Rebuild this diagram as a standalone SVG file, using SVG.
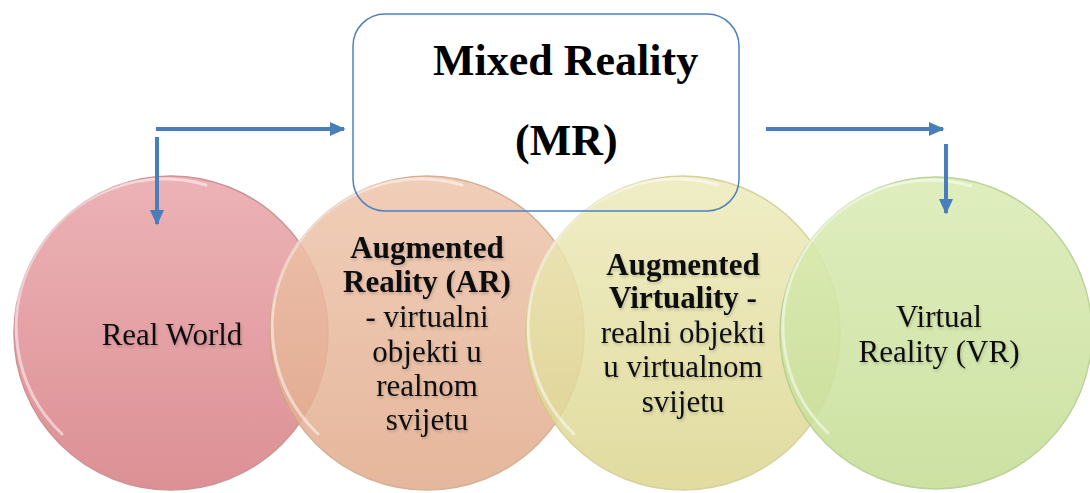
<svg xmlns="http://www.w3.org/2000/svg" width="1090" height="493" viewBox="0 0 1090 493">
<style>
.t{font-family:"Liberation Serif","Times New Roman",serif;font-size:31px;fill:#111;text-anchor:middle}
.b{font-weight:bold}
.ttl{font-family:"Liberation Serif","Times New Roman",serif;font-size:44px;font-weight:bold;fill:#000}
.hl{fill:none;stroke:#fff;stroke-width:3;stroke-opacity:0.5;stroke-linecap:round}
.conn{stroke:#4a7ebb;stroke-width:4;fill:none}
</style>
<defs>
<linearGradient id="gRW" x1="0" y1="0" x2="0" y2="1"><stop offset="0" stop-color="#ebadb1"/><stop offset="1" stop-color="#da878c"/></linearGradient>
<linearGradient id="gAR" x1="0" y1="0" x2="0" y2="1"><stop offset="0" stop-color="#efc6ad"/><stop offset="1" stop-color="#e1ab8b"/></linearGradient>
<linearGradient id="gAV" x1="0" y1="0" x2="0" y2="1"><stop offset="0" stop-color="#eeebbc"/><stop offset="1" stop-color="#dcd68f"/></linearGradient>
<linearGradient id="gVR" x1="0" y1="0" x2="0" y2="1"><stop offset="0" stop-color="#dcecb6"/><stop offset="1" stop-color="#c6de96"/></linearGradient>
<marker id="ah" viewBox="0 0 10 10" refX="9" refY="5" markerWidth="4" markerHeight="4" orient="auto" markerUnits="strokeWidth">
<path d="M0,0.5 L10,5 L0,9.5 z" fill="#4a7ebb"/>
</marker>
<filter id="sh" x="-10%" y="-10%" width="120%" height="130%"><feGaussianBlur in="SourceAlpha" stdDeviation="1.5"/><feOffset dx="1" dy="2" result="o"/><feComponentTransfer><feFuncA type="linear" slope="0.2"/></feComponentTransfer><feMerge><feMergeNode/><feMergeNode in="SourceGraphic"/></feMerge></filter>
</defs>
<rect width="1090" height="493" fill="#fff"/>

<g id="real-world">
<circle cx="171" cy="333" r="157" fill="url(#gRW)" stroke="#c98a8c" stroke-width="1.5" opacity="0.92"/>
<path class="hl" d="M 206,185 A 148,148 0 0 0 62,434"/>
<text class="t" x="172" y="345" filter="url(#sh)">Real World</text>
</g>

<g id="augmented-reality">
<circle cx="427" cy="333" r="157" fill="url(#gAR)" stroke="#cfa385" stroke-width="1.5" opacity="0.85"/>
<path class="hl" d="M 462,185 A 148,148 0 0 0 318,434"/>
<text class="t b" x="427" y="258" filter="url(#sh)">Augmented</text>
<text class="t b" x="427" y="292" filter="url(#sh)">Reality (AR)</text>
<text class="t" x="427" y="327" filter="url(#sh)">- virtualni</text>
<text class="t" x="427" y="362" filter="url(#sh)">objekti u</text>
<text class="t" x="427" y="396" filter="url(#sh)">realnom</text>
<text class="t" x="427" y="430" filter="url(#sh)">svijetu</text>
</g>

<g id="augmented-virtuality">
<circle cx="683" cy="333" r="157" fill="url(#gAV)" stroke="#cfca8c" stroke-width="1.5" opacity="0.85"/>
<path class="hl" d="M 718,185 A 148,148 0 0 0 574,434"/>
<text class="t b" x="683" y="275" filter="url(#sh)">Augmented</text>
<text class="t b" x="683" y="308" filter="url(#sh)">Virtuality -</text>
<text class="t" x="683" y="343" filter="url(#sh)">realni objekti</text>
<text class="t" x="683" y="377" filter="url(#sh)">u virtualnom</text>
<text class="t" x="683" y="412" filter="url(#sh)">svijetu</text>
</g>

<g id="virtual-reality">
<circle cx="936" cy="333" r="156" fill="url(#gVR)" stroke="#b3cc8c" stroke-width="1.5" opacity="0.88"/>
<path class="hl" d="M 971,186 A 147,147 0 0 0 828,433"/>
<text class="t" x="939" y="327" filter="url(#sh)">Virtual</text>
<text class="t" x="939" y="362" filter="url(#sh)">Reality (VR)</text>
</g>

<g id="mixed-reality">
<rect x="353" y="14" width="386" height="197" rx="32" ry="32" fill="none" stroke="#4f81bd" stroke-width="1.5"/>
<text class="ttl" x="433" y="75">Mixed Reality</text>
<text class="ttl" x="515" y="155">(MR)</text>
</g>

<g id="connectors">
<line class="conn" x1="156" y1="129" x2="344" y2="129" marker-end="url(#ah)"/>
<line class="conn" x1="157" y1="137" x2="157" y2="224" marker-end="url(#ah)"/>
<line class="conn" x1="766" y1="129" x2="943" y2="129" marker-end="url(#ah)"/>
<line class="conn" x1="946" y1="144" x2="946" y2="213" marker-end="url(#ah)"/>
</g>
</svg>
